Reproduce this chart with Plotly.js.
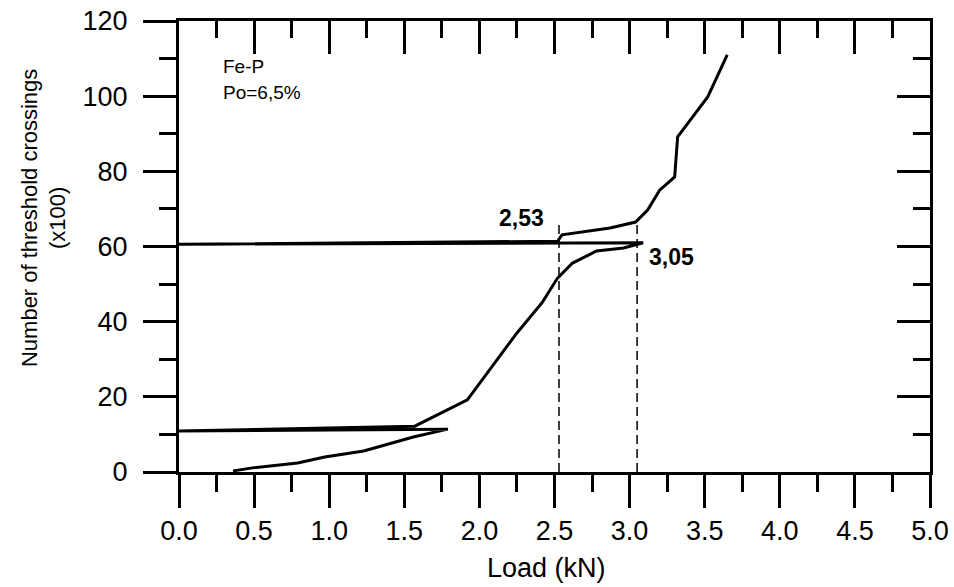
<!DOCTYPE html>
<html>
<head>
<meta charset="utf-8">
<script src="https://cdn.plot.ly/plotly-3.0.1.min.js"></script>
<style>
  html, body { margin: 0; padding: 0; background: #ffffff; }
  #chart { width: 954px; height: 587px; }
</style>
</head>
<body>
<div id="chart"></div>
<script>
// Load (kN) and number of threshold crossings (x100)
const load = [0.36, 0.49, 0.79, 0.97, 1.23, 1.56, 1.79, 0.0, 1.57, 1.92, 2.25, 2.42, 2.52, 2.62, 2.78, 2.96, 3.09, 0.0, 2.52, 2.55, 2.87, 3.04, 3.12, 3.20, 3.30, 3.32, 3.42, 3.52, 3.65];
const crossings = [0.3, 1.1, 2.4, 4.0, 5.6, 9.3, 11.4, 10.9, 12.2, 19.2, 37.0, 45.2, 51.6, 55.6, 58.8, 59.6, 61.0, 60.6, 61.4, 63.1, 64.9, 66.5, 69.7, 75.0, 78.5, 89.2, 94.5, 99.8, 111.0];

// Marked loads (dashed verticals) and their labels
const markLoads = [2.53, 3.05];
const markTop = [66.5, 66.5];
const markLabels = ["2,53", "3,05"];

// Axis ticks
const xTicks = [0.0, 0.5, 1.0, 1.5, 2.0, 2.5, 3.0, 3.5, 4.0, 4.5, 5.0];
const yTicks = [0, 20, 40, 60, 80, 100, 120];

const FONT = "Liberation Sans, Arial, Helvetica, sans-serif";

const traces = [
  {
    x: load, y: crossings, type: "scatter", mode: "lines",
    line: { color: "#000", width: 3 }, hoverinfo: "skip", showlegend: false
  }
];
markLoads.forEach((m, i) => {
  traces.push({
    x: [m, m], y: [0, markTop[i]], type: "scatter", mode: "lines",
    xaxis: "x2", yaxis: "y2",
    line: { color: "#000", width: 1.5, dash: "9px,5px" },
    hoverinfo: "skip", showlegend: false
  });
});

const axCommon = {
  showline: true, linecolor: "#000", linewidth: 3,
  showgrid: false, zeroline: false,
  tickcolor: "#000", tickwidth: 3, ticklen: 33,
  tickfont: { family: FONT, size: 27, color: "#000" }
};

const layout = {
  width: 954, height: 587,
  margin: { l: 179, r: 24, t: 21, b: 115 },
  paper_bgcolor: "#fff", plot_bgcolor: "#fff",
  showlegend: false,
  xaxis: Object.assign({}, axCommon, {
    range: [0, 5], tickmode: "array", tickvals: xTicks,
    ticktext: xTicks.map(v => v.toFixed(1)),
    ticks: "outside", ticklabelstandoff: 0,
    minor: { dtick: 0.25, tick0: 0, ticks: "outside", ticklen: 17, tickwidth: 3, tickcolor: "#000", showgrid: false }
  }),
  yaxis: Object.assign({}, axCommon, {
    range: [0, 120], tickmode: "array", tickvals: yTicks,
    ticktext: yTicks.map(String),
    ticks: "outside", ticklabelstandoff: 10,
    minor: { dtick: 10, tick0: 0, ticks: "outside", ticklen: 17, tickwidth: 3, tickcolor: "#000", showgrid: false }
  }),
  xaxis2: Object.assign({}, axCommon, {
    range: [0, 5], overlaying: "x", side: "top", anchor: "y2",
    tickmode: "array", tickvals: xTicks, showticklabels: false,
    ticks: "inside",
    minor: { dtick: 0.25, tick0: 0, ticks: "inside", ticklen: 17, tickwidth: 3, tickcolor: "#000", showgrid: false }
  }),
  yaxis2: Object.assign({}, axCommon, {
    range: [0, 120], overlaying: "y", side: "right", anchor: "x2",
    tickmode: "array", tickvals: yTicks, showticklabels: false,
    ticks: "inside",
    minor: { dtick: 10, tick0: 0, ticks: "inside", ticklen: 17, tickwidth: 3, tickcolor: "#000", showgrid: false }
  }),
  annotations: [
    {
      text: markLabels[0], x: 2.277, y: 67.6, xref: "x", yref: "y",
      showarrow: false, xanchor: "center", yanchor: "middle",
      font: { family: FONT, size: 23, color: "#000", weight: "bold" }
    },
    {
      text: markLabels[1], x: 3.28, y: 57.2, xref: "x", yref: "y",
      showarrow: false, xanchor: "center", yanchor: "middle",
      font: { family: FONT, size: 23, color: "#000", weight: "bold" }
    },
    {
      text: "Fe-P", x: 0.28, y: 107.8, xref: "x", yref: "y",
      showarrow: false, xanchor: "left", yanchor: "middle",
      font: { family: FONT, size: 19, color: "#000" }
    },
    {
      text: "Po=6,5%", x: 0.28, y: 100.9, xref: "x", yref: "y",
      showarrow: false, xanchor: "left", yanchor: "middle",
      font: { family: FONT, size: 19, color: "#000" }
    },
    {
      text: "Number of threshold crossings<br>(x100)",
      x: -0.1798, y: 0.563, xref: "paper", yref: "paper",
      showarrow: false, textangle: -90, xanchor: "center", yanchor: "middle",
      font: { family: FONT, size: 22, color: "#000" }
    },
    {
      text: "Load (kN)", x: 0.4887, y: 0, xref: "paper", yref: "paper",
      yshift: -96, showarrow: false, xanchor: "center", yanchor: "middle",
      font: { family: FONT, size: 27, color: "#000" }
    }
  ]
};

Plotly.newPlot("chart", traces, layout, { displayModeBar: false, staticPlot: true });
</script>
</body>
</html>
